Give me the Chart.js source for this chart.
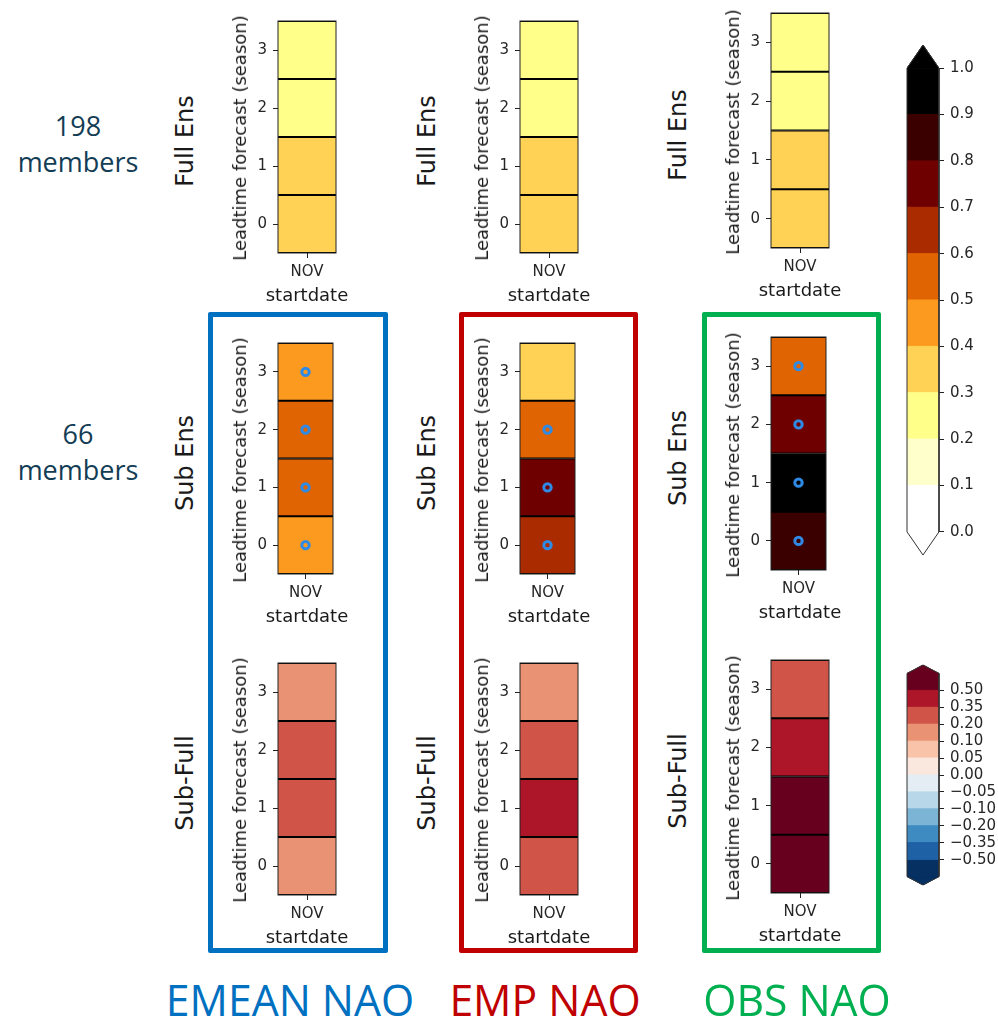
<!DOCTYPE html>
<html lang="en">
<head>
<meta charset="UTF-8" />
<title>NAO skill: full vs sub ensemble</title>
<script src="https://cdn.jsdelivr.net/npm/chart.js"></script>
<style>
  body { margin: 0; background: #fff; }
  #stage { position: relative; width: 998px; height: 1020px; overflow: hidden; font-family: 'DejaVu Sans', sans-serif; }
  canvas { position: absolute; }
  .txt { position: absolute; transform: translate(-50%, -50%); white-space: nowrap; line-height: 1; color: #1a1a1a; }
  .rot { transform: translate(-50%, -50%) rotate(-90deg); }
  .box { position: absolute; box-sizing: border-box; border: 5px solid; border-radius: 2px; }
  .note { position: absolute; transform: translateX(-50%); font-family: 'Open Sans', sans-serif; font-size: 27px; line-height: 36px; text-align: center; color: #133c55; white-space: nowrap; }
  .group { font-family: 'Open Sans', sans-serif; font-size: 44px; transform: translate(-50%, -50%) scaleX(0.97); }
</style>
</head>
<body>
<div id="stage"></div>
<script>
  // ---- data ----
  const startdates = ["NOV"];
  const leads = [0, 1, 2, 3];

  // Full ensemble (198 members), lead 0..3
  const fullEnsEmean = [0.35, 0.35, 0.25, 0.25];
  const fullEnsEmp = [0.35, 0.35, 0.25, 0.25];
  const fullEnsObs = [0.35, 0.35, 0.25, 0.25];

  // Sub ensemble (66 members)
  const subEnsEmean = [0.45, 0.55, 0.55, 0.45];
  const subEnsEmp = [0.65, 0.75, 0.55, 0.35];
  const subEnsObs = [0.85, 0.95, 0.75, 0.55];

  // Sub minus full
  const subFullEmean = [0.15, 0.27, 0.27, 0.15];
  const subFullEmp = [0.27, 0.42, 0.27, 0.15];
  const subFullObs = [0.55, 0.55, 0.42, 0.27];

  // leads flagged with an "o"
  const sigEmean = [0, 1, 2, 3];
  const sigEmp = [0, 1, 2];
  const sigObs = [0, 1, 2, 3];

  // colour scales
  const skillLevels = [0, 0.1, 0.2, 0.3, 0.4, 0.5, 0.6, 0.7, 0.8, 0.9, 1.0];
  const skillColors = ["#ffffff", "#ffffcc", "#ffff8a", "#ffd255", "#fc9a1f",
                       "#e06401", "#aa2b00", "#6e0000", "#3a0000", "#000000"];
  const skillUnder = "#ffffff";
  const skillOver = "#000000";

  const diffLevels = [-0.5, -0.35, -0.2, -0.1, -0.05, 0, 0.05, 0.1, 0.2, 0.35, 0.5];
  const diffColors = ["#1e61a5", "#3e8bc1", "#7cb4d6", "#b8d7e9", "#e3edf3",
                      "#fae7dd", "#f9c3a9", "#ea9374", "#d05548", "#ac1628"];
  const diffUnder = "#053061";
  const diffOver = "#67001f";

  Chart.defaults.font.family = "'DejaVu Sans', sans-serif";
  Chart.defaults.color = "#262626";

  const stage = document.getElementById("stage");

  function colorFor(v, levels, colors, under, over) {
    if (v < levels[0]) return under;
    if (v >= levels[levels.length - 1]) return over;
    for (let i = 0; i < colors.length; i++) {
      if (v >= levels[i] && v < levels[i + 1]) return colors[i];
    }
    return over;
  }
  const skillColor = v => colorFor(v, skillLevels, skillColors, skillUnder, skillOver);
  const diffColor = v => colorFor(v, diffLevels, diffColors, diffUnder, diffOver);

  function addText(str, x, y, cls, color, size) {
    const d = document.createElement("div");
    d.className = "txt " + (cls || "");
    d.textContent = str;
    d.style.left = x + "px";
    d.style.top = y + "px";
    if (color) d.style.color = color;
    if (size) d.style.fontSize = size + "px";
    stage.appendChild(d);
    return d;
  }

  function addCanvas(left, top, w, h) {
    const cv = document.createElement("canvas");
    cv.width = w;
    cv.height = h;
    cv.style.left = left + "px";
    cv.style.top = top + "px";
    cv.style.width = w + "px";
    cv.style.height = h + "px";
    stage.appendChild(cv);
    return cv;
  }

  // axes frame (spines)
  const frame = {
    id: "frame",
    afterDatasetsDraw(chart) {
      const { ctx, chartArea: a } = chart;
      ctx.save();
      ctx.strokeStyle = "#222";
      ctx.lineWidth = 1;
      ctx.strokeRect(a.left, a.top, a.right - a.left, a.bottom - a.top);
      ctx.restore();
    }
  };

  // ---- heatmap panels ----
  const colX = [278, 520, 771];
  const rowBoxes = [
    [[21, 232], [343, 231], [663, 232]],
    [[21, 232], [343, 231], [663, 232]],
    [[13, 235], [337, 233], [660, 233]]
  ];
  const rowNames = ["Full Ens", "Sub Ens", "Sub-Full"];
  const panelValues = [
    [fullEnsEmean, subEnsEmean, subFullEmean],
    [fullEnsEmp, subEnsEmp, subFullEmp],
    [fullEnsObs, subEnsObs, subFullObs]
  ];
  const panelSig = [sigEmean, sigEmp, sigObs];
  const plotW = 58;

  function makePanel(col, row) {
    const left = colX[col];
    const [top, h] = rowBoxes[col][row];
    const values = panelValues[col][row];
    const cmap = row === 2 ? diffColor : skillColor;
    const sig = row === 1 ? panelSig[col] : [];
    const yW = 60, xH = 53, padTop = 21, padRight = 4;

    const cv = addCanvas(left - yW, top - padTop, yW + plotW + padRight, padTop + h + xH);

    const bars = leads.map((lead, i) => ({
      type: "bar",
      data: [[lead - 0.5, lead + 0.5]],
      backgroundColor: cmap(values[i]),
      borderColor: "#000",
      borderWidth: { top: 1.3, bottom: 1.3, left: 0, right: 0 },
      borderSkipped: false,
      grouped: false,
      barPercentage: 1,
      categoryPercentage: 1
    }));

    const marks = {
      type: "line",
      data: sig.map(l => ({ x: startdates[0], y: l })),
      showLine: false,
      pointStyle: "circle",
      pointRadius: 3.7,
      pointBorderWidth: 3,
      pointBorderColor: "#2f8ae5",
      pointBackgroundColor: "rgba(0,0,0,0)",
      order: -1
    };

    new Chart(cv, {
      type: "bar",
      data: { labels: startdates, datasets: [...bars, marks] },
      options: {
        responsive: false,
        animation: false,
        layout: { padding: { top: padTop, right: padRight, left: 0, bottom: 0 } },
        plugins: { legend: { display: false }, tooltip: { enabled: false } },
        scales: {
          x: {
            offset: true,
            grid: { drawOnChartArea: false, offset: false, tickLength: 5, color: "#222" },
            border: { display: false },
            ticks: { font: { size: 15 }, padding: 5 },
            afterFit: s => { s.height = xH; }
          },
          y: {
            type: "linear",
            min: -0.5,
            max: 3.5,
            grid: { drawOnChartArea: false, tickLength: 5, color: "#222" },
            border: { display: false },
            ticks: { font: { size: 15 }, padding: 6 },
            afterBuildTicks: s => { s.ticks = leads.map(v => ({ value: v })); },
            afterFit: s => { s.width = yW; }
          }
        }
      },
      plugins: [frame]
    });

    // titles as plain text
    const cy = top + h / 2;
    addText("Leadtime forecast (season)", left - 38, cy + 1, "rot", null, 18);
    addText("startdate", left + plotW / 2, top + h + 42, "", null, 18);
    addText(rowNames[row], left - 93, cy + 4, "rot", null, 24);
  }

  for (let c = 0; c < 3; c++) {
    for (let r = 0; r < 3; r++) makePanel(c, r);
  }

  // ---- colourbars ----
  function rectPts(lo, hi) { return [[0, lo], [1, lo], [1, hi], [0, hi], [0, lo]]; }
  function triPts(base, tip) { return [[0, base], [1, base], [0.5, tip], [0, base]]; }
  function polyDs(pts, color) {
    return {
      data: pts.map(([x, y]) => ({ x, y })),
      showLine: true,
      fill: "shape",
      backgroundColor: color,
      borderColor: color,
      borderWidth: 1,
      pointRadius: 0
    };
  }
  function outlineDs(lo, hi, tipLo, tipHi) {
    const pts = [[0, lo], [0, hi], [0.5, tipHi], [1, hi], [1, lo], [0.5, tipLo], [0, lo]];
    return {
      data: pts.map(([x, y]) => ({ x, y })),
      showLine: true,
      fill: false,
      borderColor: "#333",
      borderWidth: 1,
      pointRadius: 0,
      clip: false,
      order: -1
    };
  }

  function makeColorbar(cv, datasets, yMin, yMax, tickVals, fmt, pad) {
    new Chart(cv, {
      type: "scatter",
      data: { datasets },
      options: {
        responsive: false,
        animation: false,
        layout: { padding: pad },
        plugins: { legend: { display: false }, tooltip: { enabled: false } },
        scales: {
          x: { type: "linear", min: 0, max: 1, display: false },
          y: {
            type: "linear",
            position: "right",
            min: yMin,
            max: yMax,
            grid: { drawOnChartArea: false, tickLength: 5, color: "#222" },
            border: { display: false },
            ticks: { font: { size: 15 }, padding: 6, callback: fmt },
            afterBuildTicks: s => { s.ticks = tickVals.map(v => ({ value: v })); },
            afterFit: s => { s.width = 59; }
          }
        }
      }
    });
  }

  // skill colourbar, value spacing
  {
    const lo = skillLevels[0], hi = skillLevels[skillLevels.length - 1];
    const ext = 0.05 * (hi - lo);
    const ds = [outlineDs(lo, hi, lo - ext, hi + ext)];
    skillColors.forEach((c, i) => ds.push(polyDs(rectPts(skillLevels[i], skillLevels[i + 1]), c)));
    ds.push(polyDs(triPts(lo, lo - ext), skillUnder));
    ds.push(polyDs(triPts(hi, hi + ext), skillOver));
    const cv = addCanvas(900, 30, 98, 540);
    makeColorbar(cv, ds, lo - ext, hi + ext, skillLevels,
      v => v.toFixed(1), { left: 7, top: 10.6, bottom: 13.6, right: 0 });
  }

  // difference colourbar, uniform spacing (positions = level index)
  {
    const n = diffLevels.length - 1;
    const idx = diffLevels.map((_, i) => i);
    const ds = [outlineDs(-1, n + 1, -1.5, n + 1.5)];
    diffColors.forEach((c, i) => ds.push(polyDs(rectPts(i, i + 1), c)));
    ds.push(polyDs(rectPts(-1, 0), diffUnder));
    ds.push(polyDs(triPts(-1, -1.5), diffUnder));
    ds.push(polyDs(rectPts(n, n + 1), diffOver));
    ds.push(polyDs(triPts(n + 1, n + 1.5), diffOver));
    const cv = addCanvas(900, 650, 98, 250);
    makeColorbar(cv, ds, -1.5, n + 1.5, idx,
      v => { const l = diffLevels[v]; return (l < 0 ? "\u2212" : "") + Math.abs(l).toFixed(2); },
      { left: 7, top: 9.3, bottom: 13.3, right: 0 });
  }

  // ---- group boxes ----
  const boxes = [
    { left: 208, right: 388, color: "#0070c0" },
    { left: 459, right: 638, color: "#c00000" },
    { left: 702, right: 881, color: "#00b050" }
  ];
  boxes.forEach(b => {
    const d = document.createElement("div");
    d.className = "box";
    d.style.left = b.left + "px";
    d.style.top = "312px";
    d.style.width = (b.right - b.left) + "px";
    d.style.height = (953 - 312) + "px";
    d.style.borderColor = b.color;
    stage.appendChild(d);
  });

  // ---- annotations ----
  function addNote(html, x, top) {
    const d = document.createElement("div");
    d.className = "note";
    d.innerHTML = html;
    d.style.left = x + "px";
    d.style.top = top + "px";
    stage.appendChild(d);
  }
  addNote("198<br>members", 78, 108);
  addNote("66<br>members", 78, 416);

  addText("EMEAN NAO", 290, 999, "group", "#0070c0");
  addText("EMP NAO", 545, 999, "group", "#c00000");
  addText("OBS NAO", 797, 999, "group", "#00b050");
</script>
</body>
</html>
